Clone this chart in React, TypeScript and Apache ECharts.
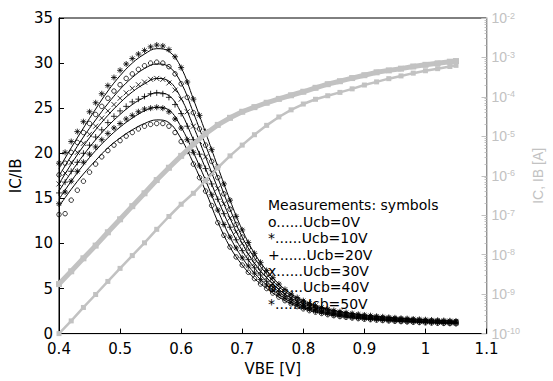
import React, { useEffect, useRef } from "react";
import * as echarts from "echarts";

// VBE grid of the measurement symbols [V]
const VBE_MEAS = [
  0.40, 0.41, 0.42, 0.43, 0.44, 0.45, 0.46, 0.47, 0.48, 0.49,
  0.50, 0.51, 0.52, 0.53, 0.54, 0.55, 0.56, 0.57, 0.58, 0.59,
  0.60, 0.61, 0.62, 0.63, 0.64, 0.65, 0.66, 0.67, 0.68, 0.69,
  0.70, 0.71, 0.72, 0.73, 0.74, 0.75, 0.76, 0.77, 0.78, 0.79,
  0.80, 0.81, 0.82, 0.83, 0.84, 0.85, 0.86, 0.87, 0.88, 0.89,
  0.90, 0.91, 0.92, 0.93, 0.94, 0.95, 0.96, 0.97, 0.98, 0.99,
  1.00, 1.01, 1.02, 1.03, 1.04, 1.05,
];

// Measured IC/IB (symbols)
const MEAS_UCB0 = [
  13.2, 13.3, 14.8, 15.9, 16.9, 17.9, 18.8, 19.6, 20.3, 20.9,
  21.4, 21.9, 22.3, 22.7, 23.0, 23.2, 23.3, 23.3, 23.0, 22.3,
  21.3, 20.2, 18.8, 17.3, 15.8, 14.2, 12.3, 10.9, 9.6, 8.5,
  7.6, 6.8, 6.1, 5.5, 5.0, 4.5, 4.05, 3.65, 3.3, 3.0,
  2.75, 2.55, 2.38, 2.23, 2.1, 1.99, 1.89, 1.81, 1.73, 1.66,
  1.6, 1.55, 1.5, 1.45, 1.41, 1.37, 1.33, 1.3, 1.26, 1.23,
  1.2, 1.18, 1.15, 1.13, 1.11, 1.09,
];
const MEAS_UCB10 = [
  14.4, 15.7, 16.9, 18.0, 19.0, 19.9, 20.7, 21.5, 22.2, 22.8,
  23.3, 23.8, 24.2, 24.6, 24.9, 25.0, 25.1, 25.0, 24.6, 23.8,
  22.8, 21.5, 20.1, 18.6, 17.0, 15.4, 13.7, 12.1, 10.7, 9.5,
  8.4, 7.5, 6.7, 6.0, 5.4, 4.85, 4.35, 3.9, 3.5, 3.2,
  2.92, 2.7, 2.52, 2.36, 2.22, 2.1, 2.0, 1.91, 1.83, 1.76,
  1.69, 1.63, 1.58, 1.53, 1.48, 1.44, 1.4, 1.36, 1.33, 1.3,
  1.27, 1.24, 1.22, 1.19, 1.17, 1.15,
];
const MEAS_UCB20 = [
  15.6, 16.8, 18.0, 19.0, 20.0, 20.9, 21.8, 22.6, 23.4, 24.1,
  24.7, 25.2, 25.7, 26.0, 26.3, 26.6, 26.7, 26.6, 26.2, 25.4,
  24.4, 23.0, 21.5, 19.9, 18.3, 16.6, 14.9, 13.3, 11.8, 10.4,
  9.2, 8.2, 7.3, 6.5, 5.8, 5.2, 4.65, 4.15, 3.75, 3.4,
  3.1, 2.86, 2.66, 2.49, 2.34, 2.22, 2.11, 2.01, 1.93, 1.85,
  1.78, 1.72, 1.66, 1.61, 1.56, 1.51, 1.47, 1.43, 1.4, 1.36,
  1.33, 1.3, 1.28, 1.25, 1.23, 1.21,
];
const MEAS_UCB30 = [
  16.6, 17.8, 19.0, 20.1, 21.1, 22.1, 23.0, 23.9, 24.7, 25.4,
  26.1, 26.7, 27.2, 27.6, 27.9, 28.2, 28.3, 28.2, 27.8, 27.0,
  26.0, 24.6, 23.0, 21.3, 19.6, 17.9, 16.1, 14.4, 12.8, 11.3,
  10.0, 8.8, 7.8, 6.9, 6.2, 5.5, 4.9, 4.4, 3.95, 3.6,
  3.3, 3.03, 2.8, 2.62, 2.46, 2.33, 2.21, 2.11, 2.02, 1.94,
  1.87, 1.8, 1.74, 1.69, 1.64, 1.59, 1.55, 1.51, 1.47, 1.43,
  1.4, 1.37, 1.34, 1.32, 1.29, 1.27,
];
const MEAS_UCB40 = [
  17.6, 18.9, 20.1, 21.2, 22.3, 23.3, 24.3, 25.2, 26.1, 26.9,
  27.6, 28.3, 28.8, 29.3, 29.7, 30.0, 30.1, 30.0, 29.6, 28.8,
  27.7, 26.2, 24.5, 22.7, 20.9, 19.1, 17.3, 15.5, 13.8, 12.1,
  10.7, 9.5, 8.4, 7.4, 6.6, 5.9, 5.2, 4.65, 4.2, 3.8,
  3.45, 3.18, 2.95, 2.76, 2.59, 2.45, 2.33, 2.22, 2.12, 2.04,
  1.96, 1.89, 1.83, 1.77, 1.72, 1.67, 1.62, 1.58, 1.54, 1.5,
  1.47, 1.44, 1.41, 1.38, 1.36, 1.33,
];
const MEAS_UCB50 = [
  18.9, 20.1, 21.3, 22.4, 23.5, 24.6, 25.6, 26.6, 27.5, 28.4,
  29.2, 29.9, 30.5, 31.0, 31.4, 31.8, 32.0, 31.9, 31.5, 30.7,
  29.5, 27.9, 26.0, 24.2, 22.4, 20.4, 18.5, 16.6, 14.8, 13.0,
  11.5, 10.1, 8.9, 7.9, 7.0, 6.2, 5.5, 4.9, 4.4, 4.0,
  3.65, 3.35, 3.1, 2.9, 2.72, 2.57, 2.44, 2.33, 2.23, 2.14,
  2.06, 1.99, 1.92, 1.86, 1.8, 1.75, 1.7, 1.66, 1.62, 1.58,
  1.54, 1.51, 1.48, 1.45, 1.42, 1.4,
];

// VBE grid of the fitted curves and IC / IB [V]
const VBE_FIT = [
  0.40, 0.42, 0.44, 0.46, 0.48, 0.50, 0.52, 0.54, 0.56, 0.58,
  0.60, 0.62, 0.64, 0.66, 0.68, 0.70, 0.72, 0.74, 0.76, 0.78,
  0.80, 0.82, 0.84, 0.86, 0.88, 0.90, 0.92, 0.94, 0.96, 0.98,
  1.00, 1.02, 1.04, 1.05,
];
const FIT_UCB0 = [
  14.1, 16.0, 17.7, 19.2, 20.6, 21.7, 22.6, 23.3, 23.7, 23.4,
  21.6, 18.9, 15.8, 12.4, 9.6, 7.6, 6.1, 5.0, 4.05, 3.3,
  2.75, 2.38, 2.1, 1.89, 1.73, 1.6, 1.5, 1.41, 1.33, 1.26,
  1.2, 1.15, 1.11, 1.09,
];
const FIT_UCB10 = [
  14.9, 16.9, 18.7, 20.3, 21.7, 22.9, 23.9, 24.7, 25.1, 24.8,
  22.9, 20.1, 17.0, 13.7, 10.7, 8.4, 6.7, 5.4, 4.35, 3.5,
  2.92, 2.52, 2.22, 2.0, 1.83, 1.69, 1.58, 1.48, 1.4, 1.33,
  1.27, 1.22, 1.17, 1.15,
];
const FIT_UCB20 = [
  15.8, 17.9, 19.8, 21.5, 23.0, 24.3, 25.4, 26.2, 26.7, 26.4,
  24.5, 21.5, 18.3, 14.9, 11.8, 9.2, 7.3, 5.8, 4.65, 3.75,
  3.1, 2.66, 2.34, 2.11, 1.93, 1.78, 1.66, 1.56, 1.47, 1.4,
  1.33, 1.28, 1.23, 1.21,
];
const FIT_UCB30 = [
  16.6, 18.8, 20.8, 22.6, 24.2, 25.6, 26.8, 27.7, 28.3, 28.0,
  26.1, 23.0, 19.6, 16.1, 12.8, 10.0, 7.8, 6.2, 4.9, 3.95,
  3.3, 2.8, 2.46, 2.21, 2.02, 1.87, 1.74, 1.64, 1.55, 1.47,
  1.4, 1.34, 1.29, 1.27,
];
const FIT_UCB40 = [
  17.5, 19.7, 21.8, 23.7, 25.5, 27.1, 28.4, 29.4, 29.9, 29.6,
  27.8, 24.5, 20.9, 17.3, 13.8, 10.7, 8.4, 6.6, 5.2, 4.2,
  3.45, 2.95, 2.59, 2.33, 2.12, 1.96, 1.83, 1.72, 1.62, 1.54,
  1.47, 1.41, 1.36, 1.33,
];
const FIT_UCB50 = [
  18.3, 20.6, 22.8, 24.9, 26.9, 28.6, 30.0, 31.0, 31.6, 31.3,
  29.5, 26.0, 22.3, 18.5, 14.8, 11.5, 8.9, 7.0, 5.5, 4.4,
  3.65, 3.1, 2.72, 2.44, 2.23, 2.06, 1.92, 1.8, 1.7, 1.62,
  1.54, 1.48, 1.42, 1.4,
];

// Collector and base currents [A] (right log axis)
const IC_A = [
  1.8e-9, 3.8e-9, 8.1e-9, 1.7e-8, 3.7e-8, 7.9e-8, 1.7e-7, 3.6e-7, 7.8e-7, 1.6e-6,
  3.2e-6, 6.3e-6, 1.17e-5, 1.95e-5, 2.95e-5, 4.2e-5, 5.5e-5, 7.1e-5, 8.9e-5, 1.1e-4,
  1.35e-4, 1.7e-4, 2.1e-4, 2.5e-4, 3.0e-4, 3.55e-4, 4.2e-4, 4.7e-4, 5.2e-4, 5.9e-4,
  6.5e-4, 7.1e-4, 7.8e-4, 8.1e-4,
];
const IB_A = [
  1.0e-10, 2.1e-10, 4.6e-10, 9.8e-10, 2.1e-9, 4.5e-9, 9.5e-9, 2.0e-8, 4.4e-8, 9.3e-8,
  1.9e-7, 3.6e-7, 7.6e-7, 1.6e-6, 3.2e-6, 6.0e-6, 1.1e-5, 1.9e-5, 3.1e-5, 4.7e-5,
  6.6e-5, 8.7e-5, 1.07e-4, 1.3e-4, 1.6e-4, 2.0e-4, 2.4e-4, 2.9e-4, 3.4e-4, 4.0e-4,
  4.6e-4, 5.2e-4, 5.9e-4, 6.3e-4,
];

const LEGEND_TITLE = "Measurements: symbols";
const LEGEND_LINES = [
  "o......Ucb=0V",
  "*......Ucb=10V",
  "+......Ucb=20V",
  "x......Ucb=30V",
  "o......Ucb=40V",
  "*......Ucb=50V",
];

const SYM_CIRCLE = "circle";
const SYM_STAR = "path://M5 0 L5 10 M0 5 L10 5 M1.5 1.5 L8.5 8.5 M8.5 1.5 L1.5 8.5";
const SYM_PLUS = "path://M5 0 L5 10 M0 5 L10 5";
const SYM_X = "path://M0 0 L10 10 M10 0 L0 10";

const GREY = "#c2c2c2";
const FONT = "DejaVu Sans";

export default function App() {
  const ref = useRef<HTMLDivElement>(null);

  useEffect(() => {
    if (!ref.current) return;
    const chart = echarts.init(ref.current, undefined, { renderer: "svg" });

    const zip = (xs: number[], ys: number[]) => xs.map((x, i) => [x, ys[i]]);

    const meas = [
      { d: MEAS_UCB0, s: SYM_CIRCLE, size: 4.5 },
      { d: MEAS_UCB10, s: SYM_STAR, size: 6 },
      { d: MEAS_UCB20, s: SYM_PLUS, size: 6 },
      { d: MEAS_UCB30, s: SYM_X, size: 5 },
      { d: MEAS_UCB40, s: SYM_CIRCLE, size: 4.5 },
      { d: MEAS_UCB50, s: SYM_STAR, size: 6 },
    ];
    const fits = [FIT_UCB0, FIT_UCB10, FIT_UCB20, FIT_UCB30, FIT_UCB40, FIT_UCB50];

    const series: any[] = [];
    fits.forEach((f) => {
      series.push({
        type: "line",
        data: zip(VBE_FIT, f),
        showSymbol: false,
        smooth: 0.4,
        lineStyle: { color: "#000", width: 1 },
        z: 3,
      });
    });
    meas.forEach((m) => {
      series.push({
        type: "scatter",
        data: zip(VBE_MEAS, m.d),
        symbol: m.s,
        symbolSize: m.size,
        itemStyle: { color: "none", borderColor: "#000", borderWidth: 1 },
        z: 4,
      });
    });
    series.push({
      type: "line",
      yAxisIndex: 1,
      data: zip(VBE_FIT, IC_A),
      symbol: "rect",
      symbolSize: 6,
      itemStyle: { color: GREY },
      lineStyle: { color: GREY, width: 5 },
      z: 5,
    });
    series.push({
      type: "line",
      yAxisIndex: 1,
      data: zip(VBE_FIT, IB_A),
      symbol: "rect",
      symbolSize: 5,
      itemStyle: { color: GREY },
      lineStyle: { color: GREY, width: 2.5 },
      z: 5,
    });

    const graphic: any[] = [
      {
        type: "text",
        left: 268,
        top: 197,
        style: { text: LEGEND_TITLE, fontSize: 14, lineHeight: 16, fontFamily: FONT, fill: "#000" },
        z: 0,
      },
      ...LEGEND_LINES.map((t, i) => ({
        type: "text",
        left: 268,
        top: 214 + i * 16.3,
        style: { text: t, fontSize: 14, lineHeight: 16, fontFamily: FONT, fill: "#000" },
        z: 0,
      })),
    ];

    chart.setOption({
      animation: false,
      backgroundColor: "#fff",
      grid: {
        left: 56,
        right: 40,
        top: 18,
        bottom: 44,
        show: true,
        borderColor: "#000",
        borderWidth: 1,
        backgroundColor: "transparent",
      },
      xAxis: {
        type: "value",
        min: 0.4,
        max: 1.1,
        interval: 0.1,
        name: "VBE [V]",
        nameLocation: "middle",
        nameGap: 22,
        nameTextStyle: { color: "#000", fontSize: 15, fontFamily: FONT },
        axisLine: { lineStyle: { color: "#000", width: 1 } },
        axisTick: { inside: true, length: 5, lineStyle: { color: "#000" } },
        axisLabel: {
          color: "#000",
          fontSize: 15,
          lineHeight: 14,
          fontFamily: FONT,
          margin: 8,
          formatter: (v: number) => String(+v.toFixed(1)),
        },
        splitLine: { show: false },
      },
      yAxis: [
        {
          type: "value",
          min: 0,
          max: 35,
          interval: 5,
          position: "left",
          name: "IC/IB",
          nameLocation: "middle",
          nameRotate: 90,
          nameGap: 36,
          nameTextStyle: { color: "#000", fontSize: 15, fontFamily: FONT },
          axisLine: { show: true, lineStyle: { color: "#000", width: 1 } },
          axisTick: { show: true, inside: true, length: 5, lineStyle: { color: "#000" } },
          axisLabel: { color: "#000", fontSize: 15, lineHeight: 12, fontFamily: FONT, margin: 6 },
          splitLine: { show: false },
        },
        {
          type: "log",
          logBase: 10,
          min: 1e-10,
          max: 1e-2,
          interval: 1,
          position: "right",
          name: "IC, IB [A]",
          nameLocation: "middle",
          nameRotate: 90,
          nameGap: 18,
          nameTextStyle: { color: GREY, fontSize: 14, fontFamily: "Liberation Sans" },
          axisLine: { show: true, lineStyle: { color: GREY, width: 1.5 } },
          axisTick: { show: true, inside: true, length: 5, lineStyle: { color: GREY } },
          minorTick: { show: true, splitNumber: 9, length: 2, lineStyle: { color: GREY } },
          axisLabel: {
            margin: 5,
            formatter: (v: number) => `{b|10}{s|${Math.round(Math.log10(v))}}`,
            rich: {
              b: { color: GREY, fontSize: 14, fontFamily: "Liberation Sans", lineHeight: 14, verticalAlign: "bottom" },
              s: { color: GREY, fontSize: 9, fontFamily: "Liberation Sans", lineHeight: 14, verticalAlign: "top", padding: [0, 0, 8, 0] },
            },
          },
          splitLine: { show: false },
        },
      ],
      graphic,
      series,
    });

    return () => chart.dispose();
  }, []);

  return (
    <div
      ref={ref}
      style={{ position: "fixed", left: 0, top: 0, width: 553, height: 381, background: "#fff" }}
    />
  );
}
